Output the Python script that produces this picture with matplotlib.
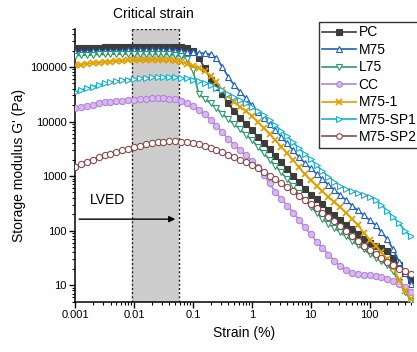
import matplotlib
matplotlib.use("Agg")
import matplotlib.pyplot as plt
from matplotlib.ticker import LogLocator, NullFormatter, FixedLocator, FixedFormatter

plt.rcParams['font.family'] = ['Liberation Sans', 'DejaVu Sans']

strain = [0.001, 0.00126, 0.00158, 0.002, 0.00251, 0.00316, 0.00398, 0.00501, 0.00631, 0.00794,
          0.01, 0.0126, 0.0158, 0.02, 0.0251, 0.0316, 0.0398, 0.0501, 0.0631, 0.0794,
          0.1, 0.126, 0.158, 0.2, 0.251, 0.316, 0.398, 0.501, 0.631, 0.794,
          1, 1.26, 1.58, 2, 2.51, 3.16, 3.98, 5.01, 6.31, 7.94,
          10, 12.6, 15.8, 20, 25.1, 31.6, 39.8, 50.1, 63.1, 79.4,
          100, 126, 158, 200, 251, 316, 398, 501]

g_pc = [219000, 221000, 224000, 224000, 226000, 229000, 229000, 229000, 232000, 232000,
        234000, 234000, 234000, 234000, 234000, 234000, 234000, 234000, 229000, 219000,
        200000, 148000, 95500, 58900, 42700, 31600, 21400, 15500, 11700, 8910,
        6920, 5250, 3980, 3090, 2340, 1780, 1350, 1020, 776, 589,
        457, 372, 302, 240, 195, 158, 129, 105, 85, 71,
        58, 52, 48, 42, 32, 23, 17, 12.3]

g_m75 = [186000, 188000, 191000, 193000, 195000, 195000, 197000, 200000, 200000, 202000,
         204000, 204000, 204000, 204000, 204000, 204000, 202000, 200000, 195000, 191000,
         186000, 182000, 178000, 170000, 148000, 100000, 66100, 46800, 35500, 26900,
         20000, 15100, 11500, 8910, 6920, 5250, 3980, 2950, 2240, 1740,
         1380, 1100, 871, 692, 562, 447, 363, 288, 234, 191,
         155, 126, 95, 69, 45, 27, 17, 10.7]

g_l75 = [162000, 164000, 166000, 168000, 170000, 170000, 172000, 174000, 174000, 174000,
         176000, 176000, 176000, 174000, 174000, 172000, 170000, 166000, 158000, 141000,
         87000, 31600, 26300, 21400, 17400, 13800, 11000, 8910, 7240, 5750,
         4570, 3470, 2630, 2000, 1550, 1170, 871, 646, 479, 363,
         275, 214, 166, 132, 112, 93, 78, 65, 54, 45,
         38, 32, 27.5, 23.4, 17.8, 11.2, 7.6, 5.2]

g_cc = [17400, 18600, 19500, 20400, 21400, 22400, 22900, 23400, 24000, 24500,
        25100, 25700, 26300, 26900, 26900, 26900, 26300, 25700, 24000, 21900,
        19500, 16600, 13500, 10700, 8320, 6310, 4790, 3720, 2950, 2400,
        1910, 1450, 1050, 741, 501, 380, 288, 214, 158, 115,
        85, 63, 48, 36, 28, 22.4, 19.1, 17, 15.8, 15.5,
        15.1, 14.5, 13.8, 13.2, 12, 10.7, 9.1, 7.4]

g_m75_1 = [107000, 111000, 115000, 117000, 120000, 123000, 126000, 129000, 130000, 132000,
           133000, 135000, 135000, 135000, 135000, 133000, 132000, 129000, 123000, 115000,
           105000, 95500, 83200, 69200, 52500, 38000, 28800, 22900, 18600, 15500,
           12600, 9770, 7590, 5890, 4570, 3470, 2630, 1950, 1450, 1070,
           832, 661, 525, 417, 339, 269, 214, 166, 126, 91,
           68, 52, 40, 30, 21, 12.6, 7.9, 5.6]

g_m75_sp1 = [34700, 38000, 40700, 43700, 46800, 50100, 52500, 55000, 57500, 58900,
             60300, 61700, 63100, 64600, 64600, 66100, 65300, 64600, 63100, 61700,
             58900, 55000, 51300, 46800, 41700, 37200, 32400, 28200, 24500, 21400,
             18600, 15500, 12900, 10500, 8510, 6760, 5370, 4170, 3240, 2570,
             2040, 1580, 1230, 977, 794, 661, 575, 525, 479, 447,
             417, 363, 295, 229, 178, 135, 100, 78]

g_m75_sp2 = [1480, 1660, 1820, 2000, 2190, 2400, 2570, 2750, 2950, 3160,
             3390, 3630, 3800, 3980, 4170, 4270, 4320, 4320, 4270, 4170,
             3980, 3800, 3550, 3310, 3020, 2750, 2450, 2190, 2000, 1780,
             1580, 1380, 1200, 1020, 871, 741, 631, 525, 437, 363,
             309, 257, 214, 178, 148, 120, 98, 79, 65, 52,
             44, 37, 32, 27, 23, 20, 17.8, 16.2]

labels = ["PC", "M75", "L75", "CC", "M75-1", "M75-SP1", "M75-SP2"]
series = [g_pc, g_m75, g_l75, g_cc, g_m75_1, g_m75_sp1, g_m75_sp2]
colors = ["#3c3c3c", "#1f5fc8", "#2e9a6a", "#b484dc", "#e0a000", "#16b0d2", "#8a4a4a"]
markers = ["s", "^", "v", "o", "x", ">", "o"]
faces = ["#3c3c3c", "white", "white", "#d7b9f0", "#e0a000", "white", "white"]

xticks = [0.001, 0.01, 0.1, 1, 10, 100]
xtick_labels = ["0.001", "0.01", "0.1", "1", "10", "100"]
yticks = [10, 100, 1000, 10000, 100000]
ytick_labels = ["10", "100", "1000", "10000", "100000"]

crit_lo, crit_hi = 0.0091, 0.058

fig = plt.figure(figsize=(4.17, 3.52), dpi=100)
ax = fig.add_axes([0.180, 0.142, 0.810, 0.776])

ax.axvspan(crit_lo, crit_hi, facecolor="#cdcdcd", edgecolor="none", zorder=0)
for xv in (crit_lo, crit_hi):
    ax.axvline(xv, color="#222222", ls=(0, (1.5, 1.5)), lw=1.0, zorder=1)
ax.plot([crit_lo, crit_hi], [4.95e5, 4.95e5], color="#222222", ls=(0, (1.5, 1.5)), lw=1.0, zorder=1)

for y, lab, c, m, fc in zip(series, labels, colors, markers, faces):
    mew = 1.3 if m == "x" else 0.8
    ax.plot(strain, y, color=c, marker=m, markersize=4.5, markerfacecolor=fc,
            markeredgecolor=c, markeredgewidth=mew, lw=1.2, label=lab, zorder=3)

ax.set_xscale("log")
ax.set_yscale("log")
ax.set_xlim(0.001, 540)
ax.set_ylim(4.9, 5.0e5)

ax.xaxis.set_major_locator(FixedLocator(xticks))
ax.xaxis.set_major_formatter(FixedFormatter(xtick_labels))
ax.yaxis.set_major_locator(FixedLocator(yticks))
ax.yaxis.set_major_formatter(FixedFormatter(ytick_labels))
ax.xaxis.set_minor_locator(LogLocator(base=10, subs=range(2, 10), numticks=20))
ax.yaxis.set_minor_locator(LogLocator(base=10, subs=range(2, 10), numticks=20))
ax.xaxis.set_minor_formatter(NullFormatter())
ax.yaxis.set_minor_formatter(NullFormatter())
ax.tick_params(which="major", direction="out", length=4, width=1, labelsize=8, pad=2)
ax.tick_params(which="minor", direction="out", length=2, width=0.8)

for s in ("top", "right"):
    ax.spines[s].set_visible(False)
for s in ("left", "bottom"):
    ax.spines[s].set_linewidth(1.1)

ax.set_xlabel("Strain (%)", fontsize=10, labelpad=4)
ax.set_ylabel("Storage modulus G' (Pa)", fontsize=10, labelpad=3)

ax.text(0.021, 1.055, "Critical strain", transform=ax.get_xaxis_transform(),
        ha="center", va="center", fontsize=10)
ax.text(0.0036, 370, "LVED", ha="center", va="center", fontsize=10)
ax.annotate("", xy=(0.056, 162), xytext=(0.00105, 162),
            arrowprops=dict(arrowstyle="-|>", color="black", lw=1.0, mutation_scale=9))

leg = ax.legend(loc="upper left", bbox_to_anchor=(0.765, 0.9375), bbox_transform=fig.transFigure,
                borderaxespad=0, fontsize=10, frameon=True, fancybox=False, framealpha=1,
                edgecolor="#333333", handlelength=2.4, handletextpad=0.2, labelspacing=0.25,
                borderpad=0.25, markerscale=0.9)
leg.get_frame().set_linewidth(1.0)

fig.savefig("out.png", dpi=100)
